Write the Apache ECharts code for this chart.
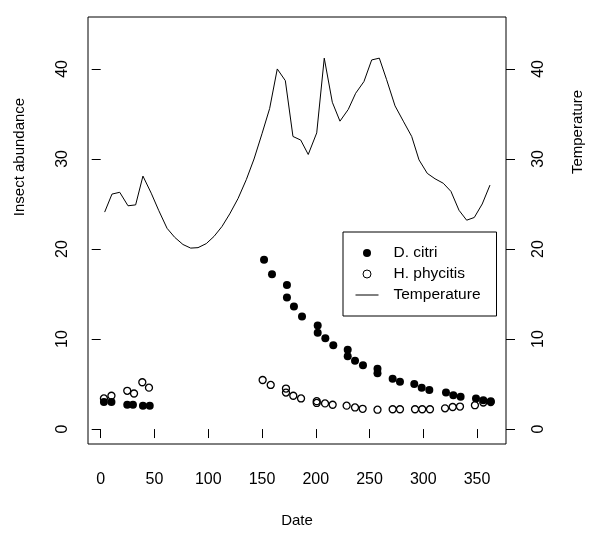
<!DOCTYPE html>
<html>
<head>
<meta charset="utf-8">
<script src="https://cdn.jsdelivr.net/npm/echarts@6/dist/echarts.min.js"></script>
<style>html,body{margin:0;padding:0;background:#fff}#c{width:590px;height:533px}</style>
</head>
<body>
<div id="c"></div>
<script>
var xTicks = [0, 50, 100, 150, 200, 250, 300, 350];
var yTicks = [0, 10, 20, 30, 40];

var citriX = [3, 10, 24.7, 30, 39.3, 45.6, 151.9, 159.3, 173.2, 173.2, 179.7, 187.2, 201.8, 201.8, 208.9, 216.3, 229.7, 229.7, 236.5, 243.9, 257.4, 257.4, 271.5, 278.3, 291.6, 298.5, 305.6, 321.1, 327.9, 334.7, 349, 355.8, 362.7];
var citriY = [3.0, 3.0, 2.7, 2.7, 2.6, 2.6, 18.8, 17.2, 16.0, 14.6, 13.6, 12.5, 11.5, 10.7, 10.1, 9.3, 8.8, 8.1, 7.6, 7.1, 6.7, 6.2, 5.6, 5.25, 5.0, 4.6, 4.35, 4.05, 3.75, 3.6, 3.4, 3.2, 3.1];

var phycX = [3, 10, 24.7, 31, 38.7, 44.9, 150.6, 158.1, 172.3, 172.3, 179.1, 186.3, 200.9, 200.9, 208.6, 215.7, 228.7, 236.5, 243.6, 257.4, 271.5, 278.3, 292.3, 299, 306.2, 320.2, 327.3, 334.1, 348, 355.8, 362.7];
var phycY = [3.4, 3.7, 4.25, 3.95, 5.2, 4.6, 5.45, 4.9, 4.5, 4.05, 3.7, 3.4, 3.1, 2.9, 2.85, 2.7, 2.6, 2.4, 2.25, 2.15, 2.2, 2.2, 2.2, 2.2, 2.2, 2.3, 2.45, 2.5, 2.65, 2.95, 3.0];

var tempX = [3.7, 10.5, 17.7, 25.4, 32.5, 39.3, 47, 53.9, 61.7, 68.8, 76.5, 83.7, 90.5, 98.2, 105.4, 112.8, 120, 127.7, 135.4, 142.6, 150, 157.1, 164.2, 171.7, 178.8, 186, 193, 200.9, 207.9, 215.4, 222.5, 230.2, 237.1, 244.8, 252, 259.1, 265.9, 273.7, 281.4, 289.2, 296, 303.7, 310.9, 318.6, 325.7, 333.2, 340.3, 347.4, 354.8, 362];
var tempY = [24.1, 26.1, 26.3, 24.8, 24.9, 28.1, 26.2, 24.3, 22.3, 21.3, 20.5, 20.1, 20.15, 20.6, 21.4, 22.5, 23.9, 25.6, 27.7, 30.0, 32.8, 35.6, 40.0, 38.7, 32.5, 32.1, 30.5, 32.9, 41.2, 36.3, 34.2, 35.5, 37.3, 38.6, 41.0, 41.2, 38.8, 35.9, 34.2, 32.5, 29.9, 28.4, 27.8, 27.3, 26.4, 24.3, 23.2, 23.5, 25.0, 27.1];

function zip(a, b) { return a.map(function (v, i) { return [v, b[i]]; }); }

var FONT = 'Liberation Sans, Arial, Helvetica, sans-serif';
var chart = echarts.init(document.getElementById('c'), null, {renderer: 'canvas'});

function yAxisDef(pos, margin) {
  return {
    type: 'value', position: pos, min: -1.66, max: 45.77,
    splitLine: {show: false},
    axisLine: {show: false},
    axisTick: {show: true, length: 9, inside: false, customValues: yTicks, lineStyle: {color: '#000', width: 1}},
    axisLabel: {show: true, customValues: yTicks, rotate: 90, margin: margin, color: '#000', fontSize: 16, fontFamily: FONT}
  };
}

chart.setOption({
  animation: false,
  backgroundColor: '#fff',
  grid: {left: 88, right: 84, top: 17, bottom: 88, show: true, borderColor: '#000', borderWidth: 1, backgroundColor: 'transparent', containLabel: false},
  xAxis: {
    type: 'value', min: -11.8, max: 376.9,
    name: 'Date', nameLocation: 'middle', nameGap: 69,
    nameTextStyle: {color: '#000', fontSize: 15, fontFamily: FONT},
    splitLine: {show: false},
    axisLine: {show: false},
    axisTick: {show: true, length: 9, inside: false, customValues: xTicks, lineStyle: {color: '#000', width: 1}},
    axisLabel: {show: true, customValues: xTicks, margin: 28, color: '#000', fontSize: 16, fontFamily: FONT}
  },
  yAxis: [yAxisDef('left', 17), yAxisDef('right', 25)],
  legend: {
    orient: 'vertical', left: 343, top: 232,
    padding: [11, 16, 11, 12],
    borderColor: '#000', borderWidth: 1, borderRadius: 0,
    backgroundColor: '#fff',
    itemWidth: 23, itemHeight: 8, itemGap: 1,
    textStyle: {color: '#000', fontSize: 15.5, fontFamily: FONT, lineHeight: 20, padding: [0, 0, 0, 10]},
    data: [
      {name: 'D. citri'},
      {name: 'H. phycitis', itemStyle: {borderWidth: 1}},
      {name: 'Temperature', itemStyle: {color: 'rgba(0,0,0,0)', borderWidth: 0, opacity: 0}, lineStyle: {color: '#000', width: 1, opacity: 1}}
    ]
  },
  graphic: [
    {type: 'text', x: 20, y: 157, rotation: Math.PI / 2, style: {text: 'Insect abundance', fill: '#000', font: '15px ' + FONT, textAlign: 'center', textVerticalAlign: 'middle'}},
    {type: 'text', x: 578, y: 132, rotation: Math.PI / 2, style: {text: 'Temperature', fill: '#000', font: '15px ' + FONT, textAlign: 'center', textVerticalAlign: 'middle'}}
  ],
  series: [
    {name: 'D. citri', type: 'scatter', yAxisIndex: 0, symbol: 'circle', symbolSize: 8,
     itemStyle: {color: '#000', opacity: 1}, data: zip(citriX, citriY), z: 2},
    {name: 'H. phycitis', type: 'scatter', yAxisIndex: 0, symbol: 'circle', symbolSize: 7,
     itemStyle: {color: 'rgba(0,0,0,0)', borderColor: '#000', borderWidth: 1.3, opacity: 1}, data: zip(phycX, phycY), z: 3},
    {name: 'Temperature', type: 'line', yAxisIndex: 1, symbol: 'none', showSymbol: false,
     lineStyle: {color: '#000', width: 1}, itemStyle: {color: '#000'}, data: zip(tempX, tempY), z: 4}
  ]
});
</script>
</body>
</html>
